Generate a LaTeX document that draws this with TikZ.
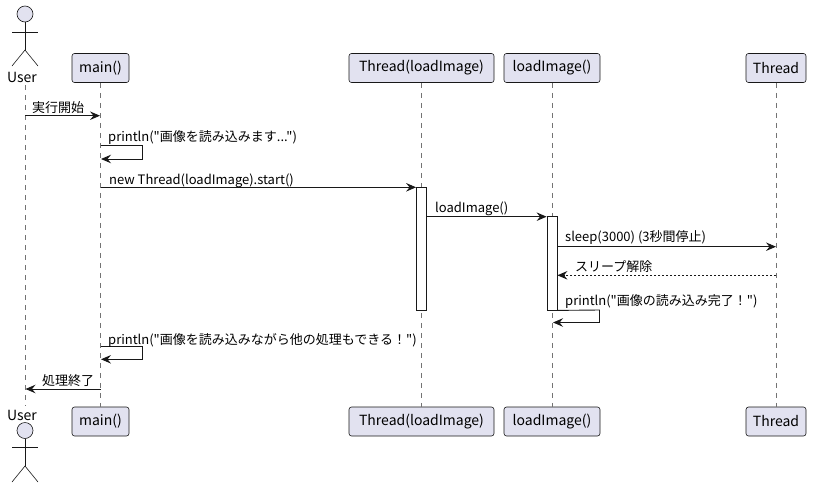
\documentclass[tikz,border=0pt]{standalone}
\usepackage{fontspec}
\newfontfamily\jpfont{Noto Sans CJK JP}
\usetikzlibrary{arrows.meta}
\definecolor{partfill}{HTML}{E2E2F0}
\definecolor{ink}{HTML}{181818}
\begin{document}
\begin{tikzpicture}[x=1pt,y=-1pt,
  part/.style={draw=ink, fill=partfill, rounded corners=2.5pt, minimum height=29pt, inner xsep=2pt, line width=0.6pt, font=\jpfont\fontsize{14}{16}\selectfont},
  lifeline/.style={draw=black!55, dash pattern=on 5pt off 5pt, line width=0.6pt},
  msg/.style={draw=ink, line width=0.9pt, -{Stealth[length=10pt,width=8.5pt,inset=3.5pt]}},
  rmsg/.style={msg, dash pattern=on 2pt off 2pt},
  lbl/.style={anchor=base west, inner sep=0pt, font=\jpfont\fontsize{13}{15}\selectfont, text=black},
  act/.style={draw=ink, fill=white, line width=0.8pt, minimum width=10pt, inner sep=0pt},
  actor/.style={draw=ink, line width=0.6pt},
  uname/.style={inner sep=0pt, font=\jpfont\fontsize{14}{16}\selectfont}
]
\useasboundingbox (0,0) rectangle (824,493);

% ---- actors ----
\node[actor, fill=partfill, circle, minimum size=16pt, inner sep=0pt] (uheadT) at (25,14) {};
\coordinate (uhipT) at (25,50);
\coordinate (uarmLT) at (12,32);
\coordinate (uarmRT) at (38,32);
\coordinate (ulegLT) at (12,66);
\coordinate (ulegRT) at (38,66);
\draw[actor] (uheadT.south) -- (uhipT);
\draw[actor] (uarmLT) -- (uarmRT);
\draw[actor] (ulegLT) -- (uhipT) -- (ulegRT);
\node[uname] (userT) at (22,77) {User};

\node[uname] (userB) at (22,415) {User};
\node[actor, fill=partfill, circle, minimum size=16pt, inner sep=0pt] (uheadB) at (25,430.5) {};
\coordinate (uhipB) at (25,466);
\coordinate (uarmLB) at (12,447);
\coordinate (uarmRB) at (38,447);
\coordinate (ulegLB) at (12,482);
\coordinate (ulegRB) at (38,482);
\draw[actor] (uheadB.south) -- (uhipB);
\draw[actor] (uarmLB) -- (uarmRB);
\draw[actor] (ulegLB) -- (uhipB) -- (ulegRB);

% ---- participants ----
\node[part, minimum width=57pt]  (mainT) at (100.5,68) {main()};
\node[part, minimum width=145pt] (thrLT) at (421.5,68) {Thread(loadImage)};
\node[part, minimum width=96pt]  (loadT) at (552,68) {loadImage()};
\node[part, minimum width=60pt]  (thrT)  at (776,68) {Thread};

\node[part, minimum width=57pt]  (mainB) at (100.5,421.5) {main()};
\node[part, minimum width=145pt] (thrLB) at (421.5,421.5) {Thread(loadImage)};
\node[part, minimum width=96pt]  (loadB) at (552,421.5) {loadImage()};
\node[part, minimum width=60pt]  (thrB)  at (776,421.5) {Thread};

% ---- lifelines ----
\coordinate (ullT) at (25,85);
\coordinate (ullB) at (25,406);
\draw[lifeline] (ullT) -- (ullB);
\draw[lifeline] (mainT.south) -- (mainB.north);
\draw[lifeline] (thrLT.south) -- (thrLB.north);
\draw[lifeline] (loadT.south) -- (loadB.north);
\draw[lifeline] (thrT.south) -- (thrB.north);

% ---- activations ----
\node[act, minimum height=123pt] (actTL) at (421.5,248.5) {};
\node[act, minimum height=93.5pt] (actLI) at (552,263.25) {};

% ---- messages ----
% 1
\coordinate (u1) at (25,115.7);
\coordinate (m1) at (100,115.7);
\draw[msg] (u1) -- (m1);
\node[lbl] (l1) at (32,112) {実行開始};

% 2 self
\coordinate (m2a) at (100.5,145.7);
\coordinate (m2r) at (142.7,145.7);
\coordinate (m2s) at (142.7,159);
\coordinate (m2b) at (101,159);
\draw[msg] (m2a) -- (m2r) -- (m2s) -- (m2b);
\node[lbl] (l2) at (108,141) {println("画像を読み込みます...")};

% 3
\coordinate (m3) at (100.5,187.3);
\draw[msg] (m3) -- (actTL.west |- m3);
\node[lbl] (l3) at (109,184) {new Thread(loadImage).start()};

% 4
\coordinate (t4) at (426.5,216.7);
\draw[msg] (actTL.east |- t4) -- (actLI.west |- t4);
\node[lbl] (l4) at (435,212.5) {loadImage()};

% 5
\coordinate (t5) at (557,246.7);
\coordinate (h5) at (776,246.7);
\draw[msg] (actLI.east |- t5) -- (h5);
\node[lbl] (l5) at (565,241.5) {sleep(3000) (3秒間停止)};

% 6 return
\coordinate (h6) at (776,275.3);
\draw[rmsg] (h6) -- (actLI.east |- h6);
\node[lbl] (l6) at (575,271.5) {スリープ解除};

% 7 self on loadImage
\coordinate (s7r) at (599.5,310);
\coordinate (s7s) at (599.5,322.5);
\coordinate (s7b) at (553,322.5);
\draw[msg] (actLI.south east) -- (s7r) -- (s7s) -- (s7b);
\node[lbl] (l7) at (565,305.5) {println("画像の読み込み完了！")};

% 8 self on main
\coordinate (m8a) at (100.5,346.7);
\coordinate (m8r) at (142.7,346.7);
\coordinate (m8s) at (142.7,359.3);
\coordinate (m8b) at (101,359.3);
\draw[msg] (m8a) -- (m8r) -- (m8s) -- (m8b);
\node[lbl] (l8) at (108,344) {println("画像を読み込みながら他の処理もできる！")};

% 9
\coordinate (m9) at (100.5,389);
\coordinate (u9) at (25.5,389);
\draw[msg] (m9) -- (u9);
\node[lbl] (l9) at (42,385) {処理終了};
\end{tikzpicture}
\end{document}
